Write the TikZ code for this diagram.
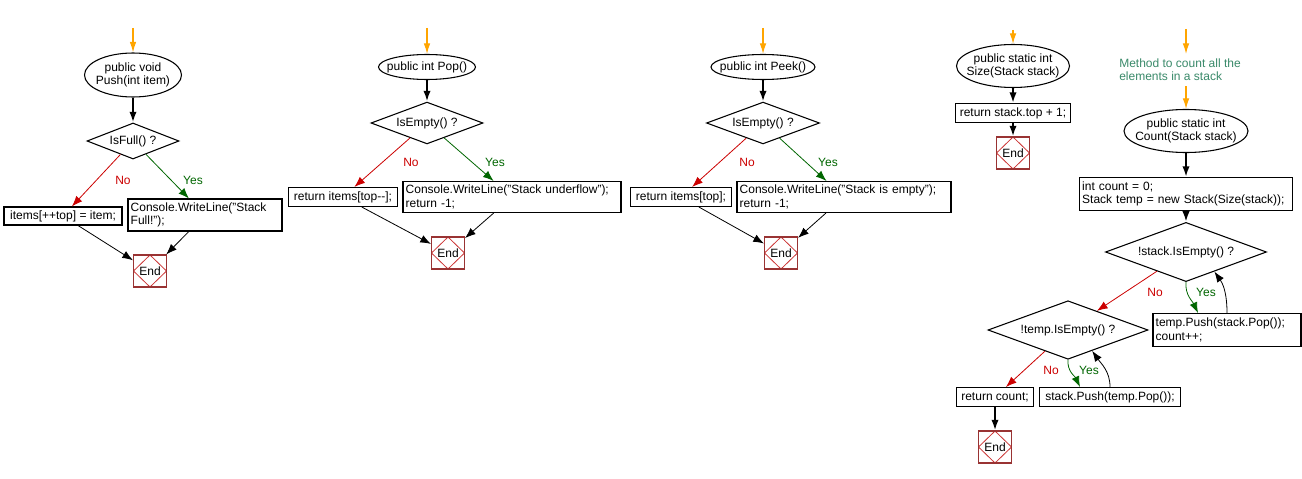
\documentclass[tikz,border=0pt]{standalone}
\usepackage{fontspec}
\setmainfont{Liberation Sans}
\usetikzlibrary{shapes.geometric,arrows.meta,calc}

\definecolor{flowred}{HTML}{CC0000}
\definecolor{flowgreen}{HTML}{006600}
\definecolor{startorange}{HTML}{FFA500}
\definecolor{endred}{HTML}{993333}
\definecolor{diamred}{HTML}{CC3333}
\definecolor{notegreen}{HTML}{3A8A6A}

\begin{document}
\begin{tikzpicture}[x=0.75pt,y=-0.75pt,thick,
  every node/.style={font=\fontsize{9}{10}\selectfont},
  method/.style={draw,ellipse,inner sep=0pt,label={[align=center]center:#1}},
  cond/.style={draw,diamond,inner sep=0pt,shape aspect=2},
  stmt/.style={draw,inner sep=0pt,align=left},
  stmtwide/.style={stmt,inner xsep=2pt,text width=#1},
  stop/.style={draw=endred,inner sep=0pt,minimum width=24.75pt,minimum height=24pt,
    path picture={\draw[diamred,semithick] (path picture bounding box.north)
      -- (path picture bounding box.east) -- (path picture bounding box.south)
      -- (path picture bounding box.west) -- cycle;}},
  entry/.style={-{Latex[length=8pt,width=5pt]},startorange,line width=0.9pt},
  flow/.style={-{Latex[length=8pt,width=5.5pt]},line width=1.5pt},
  link/.style={-{Latex[length=8pt,width=6pt]},semithick},
  nobranch/.style={link,flowred},
  yesbranch/.style={link,flowgreen},
  nolbl/.style={text=flowred},
  yeslbl/.style={text=flowgreen}]
\fill[white] (0,0) rectangle (1302,478);
\useasboundingbox (0,0) rectangle (1302,478);

% Push
\coordinate (pushin) at (133,28);
\node[method={public void\\Push(int item)},minimum width=72.75pt,minimum height=33pt] (pushm) at (133,75) {};
\node[cond,minimum width=69pt,minimum height=27pt] (full) at (133,141) {IsFull() ?};
\node[stmt,minimum width=88.5pt,minimum height=13.5pt] (pushno) at (63,216) {items[++top] = item;};
\node[stmtwide=111.5pt,minimum height=24pt] (pushyes) at (205,215) {Console.WriteLine("Stack\\Full!");};
\node[stop] (pushend) at (150,271) {End};
\node[nolbl] (pushnol) at (123,180) {No};
\node[yeslbl] (pushyesl) at (193,180) {Yes};
\draw[entry] (pushin) -- (pushm);
\draw[flow] (pushm) -- (full);
\draw[nobranch] (full) -- (pushno);
\draw[yesbranch] (full) -- (pushyes);
\draw[link] (pushno) -- (pushend);
\draw[link] (pushyes) -- (pushend);

% Pop
\coordinate (popin) at (427,28);
\node[method={public int Pop()},minimum width=72.75pt,minimum height=18.75pt] (popm) at (427,67) {};
\node[cond,minimum width=84pt,minimum height=27.75pt] (pope) at (427,123) {IsEmpty() ?};
\node[stmt,minimum width=81.75pt,minimum height=14.25pt] (popno) at (343,197) {return items[top-{}-];};
\node[stmtwide=159.5pt,minimum height=23.25pt] (popyes) at (512,197) {Console.WriteLine("Stack underflow");\\return -1;};
\node[stop] (popend) at (448,253) {End};
\node[nolbl] (popnol) at (411,162) {No};
\node[yeslbl] (popyesl) at (495,162) {Yes};
\draw[entry] (popin) -- (popm);
\draw[flow] (popm) -- (pope);
\draw[nobranch] (pope) -- (popno);
\draw[yesbranch] (pope) -- (popyes);
\draw[link] (popno) -- (popend);
\draw[link] (popyes) -- (popend);

% Peek
\coordinate (peekin) at (763,28);
\node[method={public int Peek()},minimum width=78pt,minimum height=18.75pt] (peekm) at (763,67) {};
\node[cond,minimum width=84.75pt,minimum height=27.75pt] (peeke) at (763,123) {IsEmpty() ?};
\node[stmt,minimum width=75.75pt,minimum height=14.25pt] (peekno) at (681,197) {return items[top];};
\node[stmtwide=156.5pt,minimum height=23.25pt] (peekyes) at (844,197) {Console.WriteLine("Stack is empty");\\return -1;};
\node[stop] (peekend) at (781,253) {End};
\node[nolbl] (peeknol) at (747,162) {No};
\node[yeslbl] (peekyesl) at (828,162) {Yes};
\draw[entry] (peekin) -- (peekm);
\draw[flow] (peekm) -- (peeke);
\draw[nobranch] (peeke) -- (peekno);
\draw[yesbranch] (peeke) -- (peekyes);
\draw[link] (peekno) -- (peekend);
\draw[link] (peekyes) -- (peekend);

% Size
\coordinate (sizein) at (1013,30);
\node[method={public static int\\Size(Stack stack)},minimum width=84.75pt,minimum height=32.25pt] (sizem) at (1013,66) {};
\node[stmt,minimum width=86.25pt,minimum height=14.25pt] (sizeret) at (1013,113) {return stack.top + 1;};
\node[stop] (sizeend) at (1013,153) {End};
\draw[entry] (sizein) -- (sizem);
\draw[flow] (sizem) -- (sizeret);
\draw[flow] (sizeret) -- (sizeend);

% Count
\coordinate (countin) at (1186,29);
\node[text=notegreen,align=left] (note) at (1180,70) {Method to count all the\\elements in a stack};
\node[method={public static int\\Count(Stack stack)},minimum width=93pt,minimum height=32.25pt] (countm) at (1186,131) {};
\node[stmtwide=155.75pt,minimum height=24.75pt] (init) at (1186,194) {int count = 0;\\Stack temp = new Stack(Size(stack));};
\node[cond,minimum width=120.75pt,minimum height=27.75pt] (stke) at (1186,252) {!stack.IsEmpty() ?};
\node[stmtwide=107pt,minimum height=24.75pt] (move1) at (1227,330) {temp.Push(stack.Pop());\\count++;};
\node[cond,minimum width=120pt,minimum height=28.5pt] (tmpe) at (1068,330) {!temp.IsEmpty() ?};
\node[stmt,minimum width=105.75pt,minimum height=14.25pt] (move2) at (1110,397) {stack.Push(temp.Pop());};
\node[stmt,minimum width=57.75pt,minimum height=14.25pt] (ret) at (995,397) {return count;};
\node[stop] (countend) at (995,447) {End};
\node[nolbl] (stkenol) at (1155,292) {No};
\node[yeslbl] (stkeyesl) at (1206,292) {Yes};
\node[nolbl] (tmpenol) at (1051,370) {No};
\node[yeslbl] (tmpeyesl) at (1089,370) {Yes};
\draw[entry] (countin) -- (countin |- note.north);
\draw[entry] (note.south -| countm.north) -- (countm.north);
\draw[flow] (countm) -- (init);
\draw[flow] (init) -- (stke);
\draw[yesbranch] (stke.south) to[out=-95,in=115] ([xshift=-21.75pt]move1.north);
\draw[link] (move1.north) to[out=90,in=-55] ($(stke.south)!.35!(stke.east)$);
\draw[nobranch] (stke) -- (tmpe);
\draw[yesbranch] (tmpe.south) to[out=-95,in=115] ([xshift=-22.5pt]move2.north);
\draw[link] (move2.north) to[out=90,in=-55] ($(tmpe.south)!.3!(tmpe.east)$);
\draw[nobranch] (tmpe) -- (ret);
\draw[flow] (ret) -- (countend);
\end{tikzpicture}
\end{document}
